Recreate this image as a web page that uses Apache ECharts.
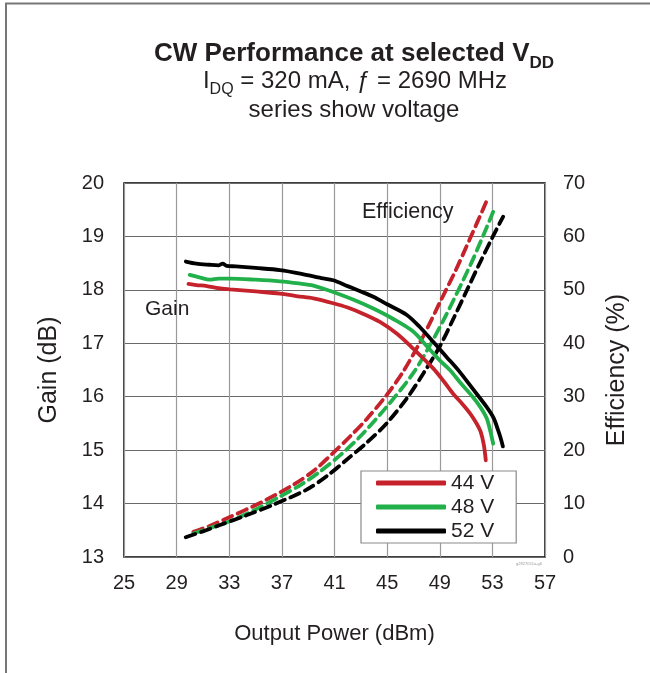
<!DOCTYPE html>
<html>
<head>
<meta charset="utf-8">
<title>CW Performance</title>
<script src="https://cdn.jsdelivr.net/npm/echarts@6/dist/echarts.min.js"></script>
<style>
  html, body { margin: 0; padding: 0; background: #fff; }
</style>
</head>
<body>
<div id="main" style="width:650px;height:673px;"></div>
<script>
// axis ticks
var xTicks = [25, 29, 33, 37, 41, 45, 49, 53, 57];
var gainTicks = [13, 14, 15, 16, 17, 18, 19, 20];
var effTicks = [0, 10, 20, 30, 40, 50, 60, 70];

var voltages = ['44 V', '48 V', '52 V'];
var colors = ['#c5222b', '#22b04b', '#000000'];

// gain (dB) vs output power (dBm)
var gain44 = [[29.9,18.11],[30.5,18.09],[31.3,18.07],[32.2,18.03],[33.05,18.01],[35,17.97],[36.85,17.93],
  [38.2,17.88],[39.4,17.84],[40.9,17.75],[42,17.67],[43.2,17.55],[44.45,17.4],[45.8,17.17],[46.98,16.9],
  [48.5,16.53],[49.3,16.29],[50.0,16.06],[50.7,15.87],[51.3,15.69],[51.8,15.5],[52.1,15.35],[52.35,15.1],[52.5,14.81]];
var gain48 = [[30.0,18.28],[30.8,18.23],[31.5,18.19],[32.2,18.21],[33.05,18.21],[35,18.19],[36.85,18.16],
  [38.3,18.12],[39.4,18.08],[40.9,17.96],[42.5,17.81],[43.95,17.65],[45.5,17.45],[46.98,17.22],[48,16.95],
  [49.0,16.68],[49.77,16.5],[50.6,16.25],[51.5,16.0],[52.1,15.8],[52.56,15.6],[52.85,15.35],[53.06,15.12]];
var gain52 = [[29.7,18.53],[30.5,18.49],[31.5,18.47],[32.2,18.46],[32.5,18.49],[32.8,18.45],[33.5,18.44],
  [35,18.41],[36.85,18.37],[38.5,18.3],[40,18.22],[40.9,18.18],[42,18.07],[43,17.97],[43.95,17.87],
  [45,17.73],[46.5,17.53],[47.5,17.3],[48.5,17.03],[49.5,16.75],[50.5,16.47],[51.5,16.15],[52.56,15.81],
  [53.1,15.6],[53.4,15.4],[53.6,15.25],[53.8,15.07]];

// drain efficiency (%) vs output power (dBm)
var eff44 = [[30.27,4.7],[31.5,5.8],[33.05,7.5],[35.33,10.1],[37.86,13.5],[39.5,16.3],[40.9,19.5],
  [42.2,22.6],[43.44,25.8],[44.96,30.3],[46.22,34.7],[47.74,41.3],[49.0,47.6],[50.2,53.6],[51.3,59.6],[52.56,66.6]];
var eff48 = [[30.27,4.4],[31.5,5.4],[33.05,6.7],[35,8.9],[36.85,11.3],[38.5,13.6],[39.9,16.0],[41.5,19.2],
  [42.93,22.5],[44.96,28.1],[46.98,34.4],[48.5,40.7],[49.77,46.7],[51.54,55.8],[53.06,64.6]];
var eff52 = [[29.69,3.7],[31,4.8],[32.3,6.0],[34.3,7.8],[36.35,9.8],[38.88,12.6],[40.5,15.3],[41.92,18.2],
  [43.5,21.5],[44.96,25.0],[46.5,29.7],[47.74,34.3],[49.0,39.4],[50,44.4],[51,49.6],[52,54.8],[53.06,60.1],[53.82,63.7]];

var FONT = '"Liberation Sans", Arial, sans-serif';
var TXT = '#231f20';

var chart = echarts.init(document.getElementById('main'));

function gainSeries(name, data, color) {
  return {
    name: name, type: 'line', yAxisIndex: 0, data: data,
    showSymbol: false, smooth: 0.3, silent: true, z: 3,
    lineStyle: { color: color, width: 3.8, cap: 'round' },
    itemStyle: { color: color }
  };
}
function effSeries(name, data, color) {
  return {
    name: name + ' eff', type: 'line', yAxisIndex: 1, data: data,
    showSymbol: false, smooth: 0.3, silent: true, z: 3,
    lineStyle: { color: color, width: 3.8, type: [10, 6], cap: 'round' },
    itemStyle: { color: color }
  };
}

var series = [];
var gains = [gain44, gain48, gain52];
var effs = [eff44, eff48, eff52];
for (var i = 0; i < voltages.length; i++) {
  series.push(effSeries(voltages[i], effs[i], colors[i]));
}
for (var j = 0; j < voltages.length; j++) {
  series.push(gainSeries(voltages[j], gains[j], colors[j]));
}

var option = {
  backgroundColor: '#fff',
  animation: false,
  textStyle: { fontFamily: FONT },
  grid: {
    left: 124, right: 105, top: 183, bottom: 116,
    show: true, borderColor: '#000', borderWidth: 1.5, backgroundColor: 'transparent'
  },
  legend: {
    data: voltages,
    orient: 'vertical',
    left: 361, top: 471,
    icon: 'roundRect',
    itemWidth: 70, itemHeight: 5, itemGap: 0,
    padding: [0, 22, 0, 15],
    backgroundColor: '#fff',
    borderColor: '#8a8a8a', borderWidth: 1.2,
    selectedMode: false,
    textStyle: { fontSize: 21, color: TXT, lineHeight: 24, fontFamily: FONT }
  },
  xAxis: {
    type: 'value', min: 25, max: 57, interval: 4,
    name: 'Output Power (dBm)', nameLocation: 'middle', nameGap: 66,
    nameTextStyle: { fontSize: 22, color: TXT, fontFamily: FONT },
    axisLine: { show: false }, axisTick: { show: false },
    axisLabel: { fontSize: 20, color: TXT, margin: 16, fontFamily: FONT },
    splitLine: { show: true, lineStyle: { color: '#9a9a9a', width: 1.2 } }
  },
  yAxis: [{
    type: 'value', min: 13, max: 20, interval: 1, position: 'left',
    name: 'Gain (dB)', nameLocation: 'middle', nameGap: 62, nameRotate: 90,
    nameTextStyle: { fontSize: 25, color: TXT, fontFamily: FONT },
    axisLine: { show: false }, axisTick: { show: false },
    axisLabel: { fontSize: 20, color: TXT, margin: 20, fontFamily: FONT },
    splitLine: { show: true, lineStyle: { color: '#6a6a6a', width: 1.2 } }
  }, {
    type: 'value', min: 0, max: 70, interval: 10, position: 'right',
    name: 'Efficiency (%)', nameLocation: 'middle', nameGap: 60, nameRotate: 90,
    nameTextStyle: { fontSize: 25, color: TXT, fontFamily: FONT },
    axisLine: { show: false }, axisTick: { show: false },
    axisLabel: { fontSize: 20, color: TXT, margin: 18, fontFamily: FONT },
    splitLine: { show: false }
  }],
  graphic: [
    { type: 'line', shape: { x1: 5, y1: 3.5, x2: 650, y2: 3.5 }, style: { stroke: '#777', lineWidth: 2 } },
    { type: 'line', shape: { x1: 6, y1: 3, x2: 6, y2: 673 }, style: { stroke: '#777', lineWidth: 2 } },
    {
      type: 'text', x: 354, y: 58,
      style: {
        text: '{a|CW Performance at selected V}{s|DD}',
        align: 'center', verticalAlign: 'middle', fill: TXT,
        rich: {
          a: { fontSize: 26, fontWeight: 'bold', fontFamily: FONT, fill: TXT, verticalAlign: 'bottom', lineHeight: 28, padding: [0, 0, 5, 0] },
          s: { fontSize: 17, fontWeight: 'bold', fontFamily: FONT, fill: TXT, verticalAlign: 'bottom', lineHeight: 18 }
        }
      }
    },
    {
      type: 'text', x: 355, y: 85,
      style: {
        text: '{a|I}{s|DQ}{a| = 320 mA, \u0192 = 2690 MHz}',
        align: 'center', verticalAlign: 'middle', fill: TXT,
        rich: {
          a: { fontSize: 24, fontFamily: FONT, fill: TXT, verticalAlign: 'bottom', lineHeight: 26, padding: [0, 0, 5, 0] },
          s: { fontSize: 16, fontFamily: FONT, fill: TXT, verticalAlign: 'bottom', lineHeight: 17 }
        }
      }
    },
    {
      type: 'text', x: 354, y: 110,
      style: { text: 'series show voltage', align: 'center', verticalAlign: 'middle', font: '24px ' + FONT, fill: TXT }
    },
    {
      type: 'text', x: 145, y: 309,
      style: { text: 'Gain', align: 'left', verticalAlign: 'middle', font: '21px ' + FONT, fill: TXT }, z: 10
    },
    {
      type: 'text', x: 362, y: 212,
      style: { text: 'Efficiency', align: 'left', verticalAlign: 'middle', font: '21.5px ' + FONT, fill: TXT }, z: 10
    },
    {
      type: 'text', x: 529, y: 564,
      style: { text: 'g2827051a-g6', align: 'center', verticalAlign: 'middle', font: '4px ' + FONT, fill: '#999' }
    }
  ],
  series: series
};

chart.setOption(option);
</script>
</body>
</html>
